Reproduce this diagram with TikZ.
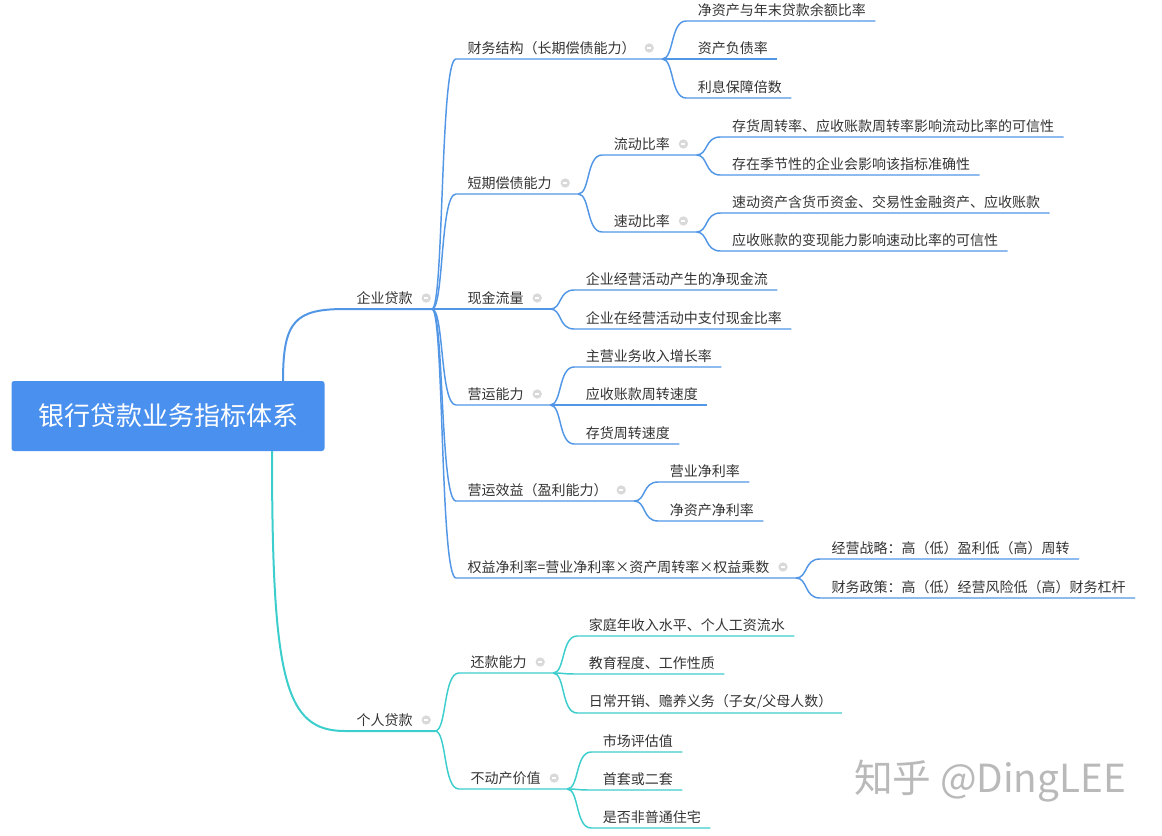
\documentclass[tikz,border=0pt]{standalone}
\usepackage{fontspec}
\setmainfont{Noto Sans CJK SC}
\usepackage{xcolor}
\usetikzlibrary{calc}
\definecolor{entblue}{RGB}{82,150,230}
\definecolor{perteal}{RGB}{60,205,205}
\definecolor{rootblue}{RGB}{74,144,238}
\definecolor{txtgray}{RGB}{51,51,51}
\tikzset{
	txt/.style={anchor=west,inner sep=1pt,text=txtgray,font=\fontsize{10.5}{12}\selectfont},
	ent/.style={draw=entblue,line width=1.1pt},
	per/.style={draw=perteal,line width=1.1pt},
	fold/.style={circle,fill=gray!30,minimum size=7pt,inner sep=0pt,
		path picture={\draw[white,line width=.8pt] ($(path picture bounding box.center)+(-2,0)$)--($(path picture bounding box.center)+(2,0)$);}},
	root/.style={fill=rootblue,rounded corners=2pt,text=white,minimum width=234.75pt,minimum height=52.5pt,font=\fontsize{19.5}{22}\selectfont}
}
% leaf: style, name, parent fork, y, text
\newcommand\leaf[5]{%
	\path ($(#3)+(24,0)$) coordinate (tmp);
	\coordinate (#2-s) at (tmp |- 0,#4);
	\node[txt] (#2) at ($(#2-s)+(10,-11)$) {#5};
	\draw[#1] (#3) .. controls ($(#3)+(12,0)$) and ($(#2-s)+(-16,0)$) .. (#2-s) -- ($(#2-s -| #2.east)+(8,0)$);
}
% branch: same, with fold mark and fork point (name-e)
\newcommand\branch[5]{%
	\path ($(#3)+(24,0)$) coordinate (tmp);
	\coordinate (#2-s) at (tmp |- 0,#4);
	\node[txt] (#2) at ($(#2-s)+(10,-11)$) {#5};
	\node[fold] at ($(#2.east)+(12,0)$) {};
	\coordinate (#2-e) at ($(#2-s -| #2.east)+(25,0)$);
	\draw[#1] (#3) .. controls ($(#3)+(12,0)$) and ($(#2-s)+(-16,0)$) .. (#2-s) -- (#2-e);
}
\begin{document}
\begin{tikzpicture}[x=0.75pt,y=-0.75pt]
	\useasboundingbox (0,0) rectangle (1162,835);
	\node[root] (root) at (168,416) {银行贷款业务指标体系};
	\coordinate (root-top) at (283,381);
	\coordinate (root-bot) at (272,451);
	
	% enterprise
	\coordinate (ent-s) at (345,309);
	\node[txt] (ent) at ($(ent-s)+(10,-11)$) {企业贷款};
	\node[fold] at ($(ent.east)+(12,0)$) {};
	\coordinate (ent-e) at (432,309);
	\draw[ent,line width=1.5pt] (root-top) .. controls ($(root-top)+(0,-60)$) and ($(ent-s)+(-50,0)$) .. (ent-s) -- (ent-e);
	
	\branch{ent}{fin}{ent-e}{59}{财务结构（长期偿债能力）}
	\foreach \n/\y/\t in {a/21/净资产与年末贷款余额比率,b/59/资产负债率,c/98/利息保障倍数}
		{\leaf{ent}{fin\n}{fin-e}{\y}{\t}}
	
	\branch{ent}{short}{ent-e}{194}{短期偿债能力}
	\branch{ent}{cur}{short-e}{155}{流动比率}
	\branch{ent}{quick}{short-e}{232}{速动比率}
	\leaf{ent}{cura}{cur-e}{137}{存货周转率、应收账款周转率影响流动比率的可信性}
	\leaf{ent}{curb}{cur-e}{175}{存在季节性的企业会影响该指标准确性}
	\leaf{ent}{quicka}{quick-e}{213}{速动资产含货币资金、交易性金融资产、应收账款}
	\leaf{ent}{quickb}{quick-e}{251}{应收账款的变现能力影响速动比率的可信性}
	
	\branch{ent}{cash}{ent-e}{309}{现金流量}
	\leaf{ent}{casha}{cash-e}{290}{企业经营活动产生的净现金流}
	\leaf{ent}{cashb}{cash-e}{329}{企业在经营活动中支付现金比率}
	
	\branch{ent}{ops}{ent-e}{405}{营运能力}
	\foreach \n/\y/\t in {a/367/主营业务收入增长率,b/405/应收账款周转速度,c/444/存货周转速度}
		{\leaf{ent}{ops\n}{ops-e}{\y}{\t}}
	
	\branch{ent}{prof}{ent-e}{501}{营运效益（盈利能力）}
	\leaf{ent}{profa}{prof-e}{482}{营业净利率}
	\leaf{ent}{profb}{prof-e}{521}{净资产净利率}
	
	\branch{ent}{roe}{ent-e}{578}{权益净利率=营业净利率×资产周转率×权益乘数}
	\leaf{ent}{roea}{roe-e}{559}{经营战略：高（低）盈利低（高）周转}
	\leaf{ent}{roeb}{roe-e}{598}{财务政策：高（低）经营风险低（高）财务杠杆}
	
	% personal
	\coordinate (per-s) at (345,731);
	\node[txt] (per) at ($(per-s)+(10,-11)$) {个人贷款};
	\node[fold] at ($(per.east)+(12,0)$) {};
	\coordinate (per-e) at (435,731);
	\draw[per,line width=1.5pt] (root-bot) .. controls ($(root-bot)+(0,230)$) and ($(per-s)+(-60,0)$) .. (per-s) -- (per-e);
	
	\branch{per}{repay}{per-e}{673}{还款能力}
	\leaf{per}{repaya}{repay-e}{636}{家庭年收入水平、个人工资流水}
	\leaf{per}{repayb}{repay-e}{674}{教育程度、工作性质}
	\leaf{per}{repayc}{repay-e}{713}{日常开销、赡养义务（子女/父母人数）}
	
	\branch{per}{estate}{per-e}{789}{不动产价值}
	\foreach \n/\y/\t in {a/752/市场评估值,b/790/首套或二套,c/828/是否非普通住宅}
		{\leaf{per}{estate\n}{estate-e}{\y}{\t}}
	
	\node[text=gray!55,font=\fontsize{29}{34}\selectfont] (mark) at (990,781) {知乎 @DingLEE};
\end{tikzpicture}
\end{document}
